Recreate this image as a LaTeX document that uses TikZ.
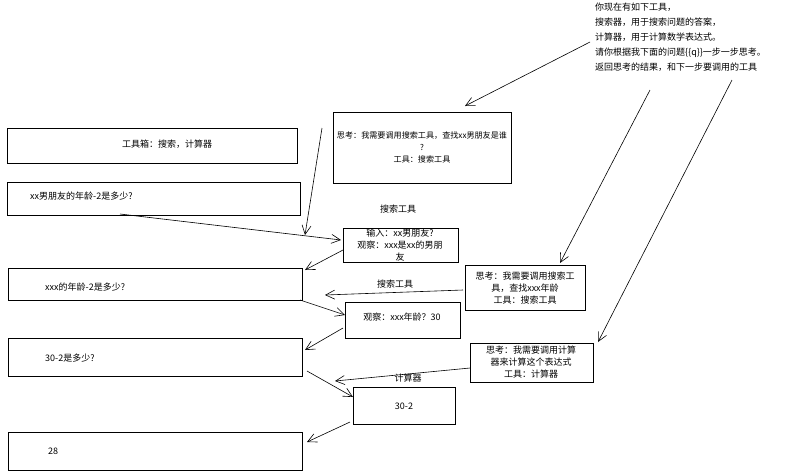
\documentclass[tikz,border=0pt]{standalone}
\usepackage{fontspec}
\setmainfont{Noto Sans CJK SC}
\usetikzlibrary{arrows.meta}
\begin{document}
\begin{tikzpicture}[x=1pt,y=-1pt,
  box/.style={draw,thick,rectangle,minimum width=0pt},
  t/.style={font=\fontsize{9}{12}\selectfont,inner sep=0pt},
  ar/.style={draw,line width=0.6pt,-{Straight Barb[length=9pt,width=9pt]}}]
\useasboundingbox (0,0) rectangle (800,475);
% top text
\node[t,anchor=north west,align=left,font=\fontsize{9}{15}\selectfont] (prompt) at (595,3) {你现在有如下工具，\\搜索器，用于搜索问题的答案，\\计算器，用于计算数学表达式。\\请你根据我下面的问题\{\{q\}\}一步一步思考。\\返回思考的结果，和下一步要调用的工具};
\coordinate (p1) at (590,42);
\coordinate (p2) at (650,90);
\coordinate (p3) at (732,80);
% boxes
\draw[box] (333,112) rectangle (511,183);
\node[t,align=center,font=\fontsize{8.1}{12}\selectfont] (th1) at (422,147) {思考：我需要调用搜索工具，查找xx男朋友是谁\\?\\工具：搜索工具};
\coordinate (th1top) at (465,106);
\draw[box] (7,128) rectangle (297,163);
\node[t] (tb) at (167,144) {工具箱：搜索，计算器};
\draw[box] (7,182) rectangle (300,215);
\node[t,anchor=west] (q1) at (30,196) {xx男朋友的年龄-2是多少?};
\coordinate (q1b) at (120,214);
\coordinate (a2s) at (322,128);
\coordinate (a2e) at (305,235);
\node[t] (lab1) at (398,209) {搜索工具};
\draw[box] (343,228) rectangle (458,262);
\node[t,align=center] (in1) at (400,245) {输入：xx男朋友?\\观察：xxx是xx的男朋\\友};
\draw[box] (8,268) rectangle (302,300);
\node[t,anchor=west] (q2) at (45,287) {xxx的年龄-2是多少?};
\draw[box] (465,265) rectangle (585,310);
\node[t,align=center] (th2) at (525,288) {思考：我需要调用搜索工\\具，查找xxx年龄\\工具：搜索工具};
\node[t] (lab2) at (395,284) {搜索工具};
\draw[box] (345,302) rectangle (460,338);
\node[t] (ob2) at (402,317) {观察：xxx年龄？30};
\draw[box] (8,338) rectangle (302,376);
\node[t,anchor=west] (q3) at (45,358) {30-2是多少?};
\draw[box] (470,343) rectangle (593,382);
\node[t,align=center] (th3) at (531,362) {思考：我需要调用计算\\器来计算这个表达式\\工具：计算器};
\node[t] (lab3) at (408,378) {计算器};
\draw[box] (353,387) rectangle (455,424);
\node[t] (c) at (404,406) {30-2};
\draw[box] (8,432) rectangle (302,470);
\node[t,anchor=west] (ans) at (48,451) {28};
% arrows
\draw[ar] (p1) -- (th1top);
\draw[ar] (a2s) -- (a2e);
\draw[ar] (q1b) -- (341,240);
\draw[ar] (343,250) -- (305,270);
\draw[ar] (p2) -- (560,263);
\draw[ar] (463,290) -- (325,295);
\draw[ar] (300,300) -- (345,315);
\draw[ar] (343,328) -- (305,350);
\draw[ar] (p3) -- (598,342);
\draw[ar] (470,368) -- (335,381);
\draw[ar] (307,371) -- (353,397);
\draw[ar] (350,422) -- (307,442);
\end{tikzpicture}
\end{document}
